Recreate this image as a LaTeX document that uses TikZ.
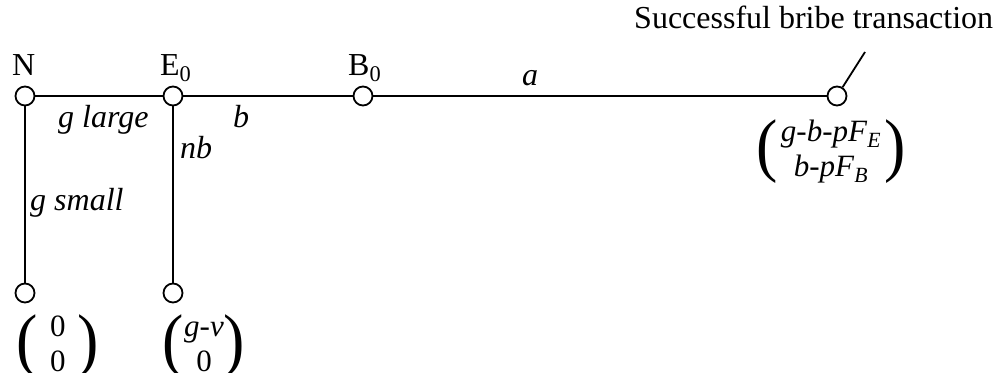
\documentclass[tikz,border=0pt]{standalone}
\usepackage{fontspec}
\setmainfont{Liberation Serif}
\usepackage{graphicx}
\newcommand{\bigpar}[1]{\vcenter{\hbox{\scalebox{1}[1.1]{\fontsize{64}{64}\selectfont #1}}}}
\newcommand{\pvec}[3]{$\bigpar{(}\vcenter{\hbox{\begin{tabular}{@{\hspace{#1}}c@{\hspace{#1}}}#2\\#3\end{tabular}}}\bigpar{)}$}
\tikzset{
  dot/.style={circle,draw,fill=white,line width=1.8pt,minimum size=19pt,inner sep=0pt},
  lbl/.style={font=\fontsize{32}{35}\selectfont,inner sep=0pt,anchor=base west},
  edge/.style={line width=1.8pt},
  pay/.style={font=\fontsize{31}{35}\selectfont,inner sep=0pt}
}
\begin{document}
\begin{tikzpicture}[x=1pt,y=-1pt]
\useasboundingbox (0,0) rectangle (998,372);
% decision nodes
\node[dot] (N) at (25,96) {};
\node[dot] (E) at (173,96) {};
\node[dot] (B) at (363,96) {};
\node[dot] (T) at (837,96) {};
\node[dot] (Ns) at (25,293) {};
\node[dot] (Enb) at (173,293) {};
\coordinate (L) at (865,52);
% connectors
\draw[edge] (N) -- (E);
\draw[edge] (E) -- (B);
\draw[edge] (B) -- (T);
\draw[edge] (N) -- (Ns);
\draw[edge] (E) -- (Enb);
\draw[edge] (T) -- (L);
% labels
\node[lbl] (lN) at (12,75) {N};
\node[lbl] (lE) at (160,75) {E\textsubscript{0}};
\node[lbl] (lB) at (348,75) {B\textsubscript{0}};
\node[lbl] (lgl) at (58,127) {\textit{g large}};
\node[lbl] (lb) at (233,127) {\textit{b}};
\node[lbl] (lnb) at (180,158) {\textit{nb}};
\node[lbl] (lgs) at (30,210) {\textit{g small}};
\node[lbl] (la) at (522,85) {\textit{a}};
\node[lbl] (lsucc) at (634,28) {Successful bribe transaction};
% payoffs
\node[pay] (pT) at (831,152) {\pvec{3pt}{\textit{g-b-pF}\textsubscript{\textit{E}}}{\textit{b-pF}\textsubscript{\textit{B}}}};
\node[pay] (pN) at (58,347) {\pvec{12pt}{0}{0}};
\node[pay] (pE) at (204,347) {\pvec{0pt}{\textit{g-v}}{0}};
\end{tikzpicture}
\end{document}
